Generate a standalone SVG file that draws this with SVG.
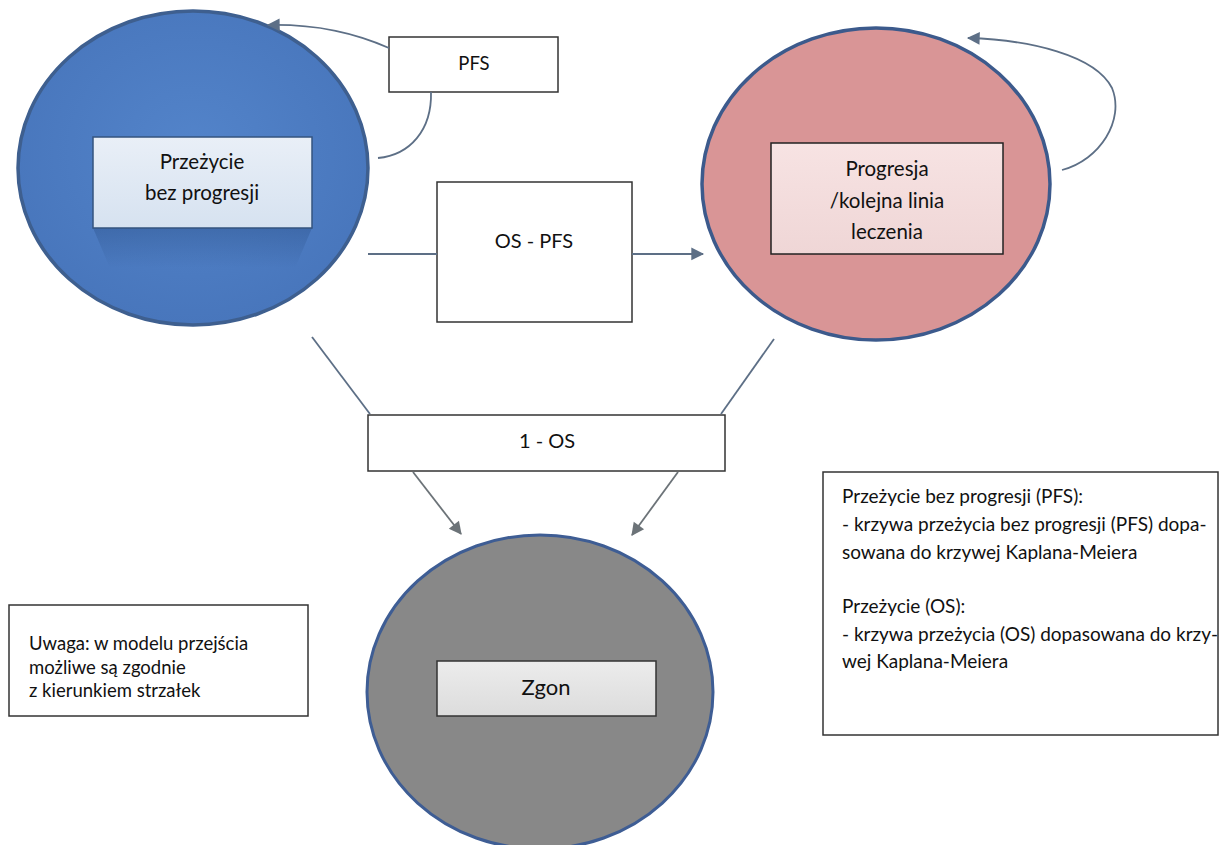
<svg xmlns="http://www.w3.org/2000/svg" width="1220" height="845" viewBox="0 0 1220 845">
<defs>
<style>
.lbl{font-family:Lato,"Liberation Sans",sans-serif;fill:#111;text-anchor:middle}
.txt{font-family:Lato,"Liberation Sans",sans-serif;fill:#111}
.box{fill:#fff;stroke:#333;stroke-width:1.5}
.con{fill:none;stroke:#5d6f86;stroke-width:1.8}
.con2{fill:none;stroke:#6c7378;stroke-width:1.8}
</style>
<marker id="ah" viewBox="0 0 10 10" refX="9" refY="5" markerWidth="8" markerHeight="8" markerUnits="userSpaceOnUse" orient="auto" style="overflow:visible">
<path d="M0,0 L10,5 L0,10 z" fill="#5d6f86" transform="scale(1.6) translate(-3.5,-1.9)"/>
</marker>
<marker id="ahg" viewBox="0 0 10 10" refX="9" refY="5" markerWidth="8" markerHeight="8" markerUnits="userSpaceOnUse" orient="auto" style="overflow:visible">
<path d="M0,0 L10,5 L0,10 z" fill="#6c7378" transform="scale(1.6) translate(-3.5,-1.9)"/>
</marker>
<radialGradient id="gBlue" cx="0.5" cy="0.45" r="0.55">
<stop offset="0" stop-color="#5384ca"/>
<stop offset="1" stop-color="#4876bc"/>
</radialGradient>
<linearGradient id="gInB" x1="0" y1="0" x2="0" y2="1">
<stop offset="0" stop-color="#e9eff7"/>
<stop offset="1" stop-color="#d6e2f0"/>
</linearGradient>
<linearGradient id="gShB" x1="0" y1="0" x2="0" y2="1">
<stop offset="0" stop-color="#2f5690" stop-opacity="0.45"/>
<stop offset="1" stop-color="#2f5690" stop-opacity="0"/>
</linearGradient>
<linearGradient id="gInP" x1="0" y1="0" x2="0" y2="1">
<stop offset="0" stop-color="#f7e3e3"/>
<stop offset="1" stop-color="#efd6d6"/>
</linearGradient>
<linearGradient id="gInG" x1="0" y1="0" x2="0" y2="1">
<stop offset="0" stop-color="#ececec"/>
<stop offset="1" stop-color="#dcdcdc"/>
</linearGradient>
</defs>
<rect width="1220" height="845" fill="#fff"/>

<g id="node-pfs-state">
<ellipse cx="193" cy="168" rx="175" ry="157" fill="url(#gBlue)" stroke="#3e5f8f" stroke-width="3.5"/>
<path d="M93,228 L312,228 L295,268 L110,268 z" fill="url(#gShB)"/>
<rect x="93" y="137" width="219" height="91" fill="url(#gInB)" stroke="#35547f" stroke-width="1.5"/>
<text class="lbl" x="202" y="169" font-size="20.5">Przeżycie</text>
<text class="lbl" x="202" y="200" font-size="20.5">bez progresji</text>
</g>

<g id="node-progression">
<ellipse cx="876" cy="184" rx="174" ry="156" fill="#d99596" stroke="#3c5a8c" stroke-width="3.5"/>
<rect x="771" y="143" width="232" height="111" fill="url(#gInP)" stroke="#222" stroke-width="1.5"/>
<text class="lbl" x="887" y="176" font-size="20.5">Progresja</text>
<text class="lbl" x="887" y="208" font-size="20.5">/kolejna linia</text>
<text class="lbl" x="887" y="239" font-size="20.5">leczenia</text>
</g>

<g id="node-death">
<ellipse cx="540" cy="692" rx="173" ry="157" fill="#888" stroke="#3e5d94" stroke-width="3"/>
<rect x="437" y="661" width="219" height="55" fill="url(#gInG)" stroke="#333" stroke-width="1.5"/>
<text class="lbl" x="546" y="695" font-size="22">Zgon</text>
</g>

<g id="node-pfs-label">
<rect class="box" x="389" y="37" width="169" height="55"/>
<text class="lbl" x="474" y="70" font-size="18.5">PFS</text>
</g>

<g id="node-os-pfs-label">
<rect class="box" x="437" y="182" width="195" height="140"/>
<text class="lbl" x="534" y="248" font-size="20">OS - PFS</text>
</g>

<g id="node-1-os-label">
<rect class="box" x="368" y="415" width="357" height="56"/>
<text class="lbl" x="547" y="448" font-size="20">1 - OS</text>
</g>

<g id="node-note">
<rect class="box" x="9" y="605" width="299" height="111"/>
<text class="txt" x="29" y="650" font-size="18.5">Uwaga: w modelu przejścia</text>
<text class="txt" x="29" y="674" font-size="18.5">możliwe są zgodnie</text>
<text class="txt" x="29" y="697" font-size="18.5">z kierunkiem strzałek</text>
</g>

<g id="node-legend">
<rect class="box" x="823" y="472" width="395" height="263"/>
<text class="txt" x="842" y="503" font-size="19">Przeżycie bez progresji (PFS):</text>
<text class="txt" x="842" y="531" font-size="19">- krzywa przeżycia bez progresji (PFS) dopa-</text>
<text class="txt" x="842" y="559" font-size="19">sowana do krzywej Kaplana-Meiera</text>
<text class="txt" x="842" y="613" font-size="19">Przeżycie (OS):</text>
<text class="txt" x="842" y="641" font-size="19">- krzywa przeżycia (OS) dopasowana do krzy-</text>
<text class="txt" x="842" y="668" font-size="19">wej Kaplana-Meiera</text>
</g>

<g id="connectors">
<path class="con" d="M389,48 C355,33 318,24 268,25" marker-end="url(#ah)"/>
<path class="con" d="M431,92 C432,130 410,155 378,158"/>
<path class="con" d="M1062,170 C1100,160 1125,120 1112,88 C1095,55 1030,40 968,38" marker-end="url(#ah)"/>
<path class="con" d="M368,254 L437,254"/>
<path class="con" d="M632,254 L703,254" marker-end="url(#ah)"/>
<path class="con" d="M312,337 L370,414"/>
<path class="con" d="M774,339 L721,414"/>
<path class="con2" d="M413,472 L461,534" marker-end="url(#ahg)"/>
<path class="con2" d="M678,472 L632,535" marker-end="url(#ahg)"/>
</g>
</svg>
